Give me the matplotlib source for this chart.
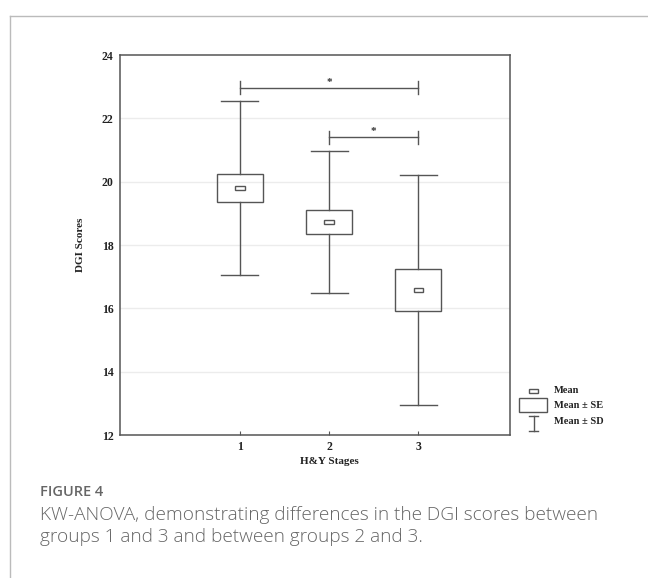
import matplotlib.pyplot as plt
from matplotlib.patches import Rectangle
from matplotlib.lines import Line2D

# H&Y stage groups and DGI score summary
stages = [1, 2, 3]
means = [19.80, 18.73, 16.58]
se = [0.43, 0.37, 0.66]
sd = [2.75, 2.25, 3.62]

# significant pairwise comparisons and the height of their brackets
pairs = [(1, 3), (2, 3)]
pair_y = [22.97, 21.40]
yticks = [12, 14, 16, 18, 20, 22, 24]

W, H = 648, 578
fig = plt.figure(figsize=(W / 100, H / 100), dpi=100)

serif = 'Liberation Serif'
line_c = '#555555'

ax = fig.add_axes([120 / W, 1 - 435 / H, 390 / W, 380 / H])
xlim = (-0.346, 4.03)
ax.set_xlim(*xlim)
ax.set_ylim(12, 24)

box_w = 0.52
cap_w = 0.415
mean_w = 0.105
mean_h = 0.14

for x, m, s, d in zip(stages, means, se, sd):
    # SD whiskers
    ax.plot([x, x], [m + s, m + d], color=line_c, lw=1, zorder=3)
    ax.plot([x, x], [m - d, m - s], color=line_c, lw=1, zorder=3)
    ax.plot([x - cap_w / 2, x + cap_w / 2], [m + d, m + d], color=line_c, lw=1, zorder=3)
    ax.plot([x - cap_w / 2, x + cap_w / 2], [m - d, m - d], color=line_c, lw=1, zorder=3)
    # SE box
    ax.add_patch(Rectangle((x - box_w / 2, m - s), box_w, 2 * s, fill=False,
                           edgecolor=line_c, lw=1, zorder=3))
    # mean marker
    ax.add_patch(Rectangle((x - mean_w / 2, m - mean_h / 2), mean_w, mean_h, fill=False,
                           edgecolor=line_c, lw=1, zorder=3))

# significance brackets
for (a, b), y in zip(pairs, pair_y):
    ax.plot([a, b], [y, y], color=line_c, lw=1)
    for xe in (a, b):
        ax.plot([xe, xe], [y - 0.21, y + 0.21], color=line_c, lw=1)
    ax.text((a + b) / 2, y + 0.03, '*', ha='center', va='bottom', fontsize=8,
            color='#333333', family=serif, fontweight='bold')

ax.set_yticks(yticks)
ax.set_xticks(stages)
for yv in yticks[1:-1]:
    ax.axhline(yv, color='#ececec', lw=1, zorder=0)

ax.tick_params(axis='y', length=0, pad=4.5)
ax.tick_params(axis='x', direction='in', length=3, width=0.8, color=line_c, pad=4)
for lab in ax.get_xticklabels() + ax.get_yticklabels():
    lab.set_fontfamily(serif)
    lab.set_fontweight('bold')
    lab.set_fontsize(8.5)
    lab.set_color('#222222')
for sp in ax.spines.values():
    sp.set_color(line_c)
    sp.set_linewidth(1.1)

ax.set_xlabel('H&Y Stages', family=serif, fontweight='bold', fontsize=8,
              color='#222222', labelpad=3)
ax.xaxis.label.set_x((2 - xlim[0]) / (xlim[1] - xlim[0]))
ax.set_ylabel('DGI Scores', family=serif, fontweight='bold', fontsize=8,
              color='#222222', labelpad=12)

# legend drawn in pixel space
lg = fig.add_axes([510 / W, 1 - 440 / H, 138 / W, 60 / H])
lg.set_xlim(510, 648)
lg.set_ylim(440, 380)
lg.axis('off')
lg.add_patch(Rectangle((529, 389.3), 8.7, 4, fill=False, edgecolor=line_c, lw=1))
lg.add_patch(Rectangle((519.3, 398.3), 28, 13.4, fill=False, edgecolor=line_c, lw=1))
lg.plot([533.5, 533.5], [416, 431], color=line_c, lw=1)
lg.plot([529, 538], [416, 416], color=line_c, lw=1)
lg.plot([529, 538], [431, 431], color=line_c, lw=1)
for ty, t in zip([390, 405, 421.5], ['Mean', 'Mean \u00b1 SE', 'Mean \u00b1 SD']):
    lg.text(554, ty, t, family=serif, fontweight='bold', fontsize=7.5,
            color='#222222', va='center', ha='left')

# outer frame
fig.add_artist(Line2D([9.5 / W, 9.5 / W], [0, 1 - 16 / H], transform=fig.transFigure,
                      color='#bbbbbb', lw=1))
fig.add_artist(Line2D([9.5 / W, 1], [1 - 16 / H, 1 - 16 / H], transform=fig.transFigure,
                      color='#bbbbbb', lw=1))

# caption
fig.text(40 / W, 1 - 491.5 / H, 'FIGURE 4', family='Open Sans', fontweight='semibold',
         fontsize=10.5, color='#666666', va='center', ha='left')
fig.text(40 / W, 1 - 515.5 / H,
         'KW-ANOVA, demonstrating differences in the DGI scores between',
         family='Open Sans', fontweight='light', fontsize=13.7, color='#666666',
         va='center', ha='left')
fig.text(40 / W, 1 - 537 / H, 'groups 1 and 3 and between groups 2 and 3.',
         family='Open Sans', fontweight='light', fontsize=13.7, color='#666666',
         va='center', ha='left')

fig.savefig('out.png', dpi=100)
